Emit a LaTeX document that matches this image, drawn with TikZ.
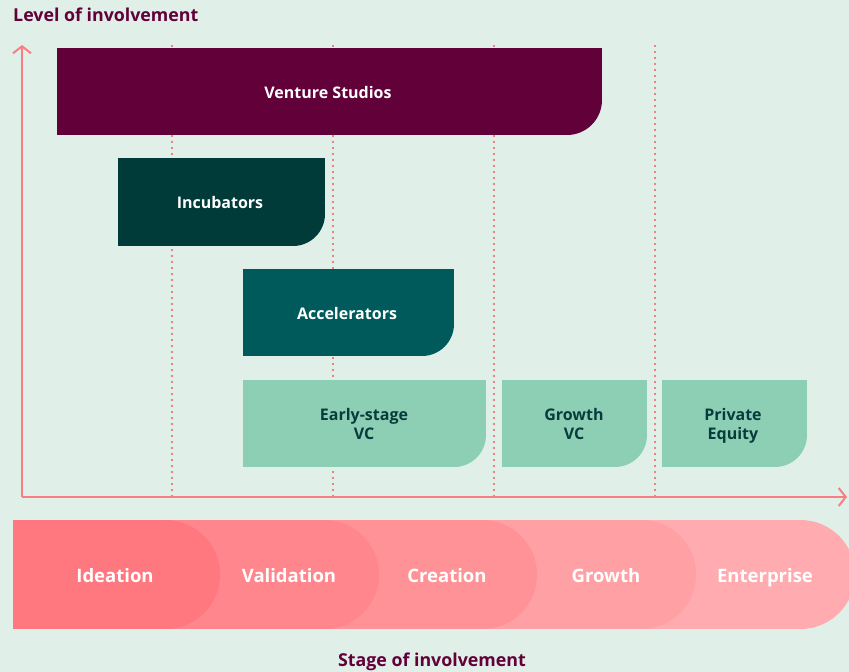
\documentclass[tikz,border=0pt]{standalone}
\usepackage{fontspec}
\setmainfont{Open Sans}
\usetikzlibrary{arrows.meta}
\definecolor{bg}{RGB}{224,240,232}
\definecolor{maroon}{RGB}{98,0,57}
\definecolor{axis}{RGB}{250,125,130}
\definecolor{dots}{RGB}{240,128,128}
\definecolor{incub}{RGB}{0,59,58}
\definecolor{accel}{RGB}{0,90,92}
\definecolor{vc}{RGB}{140,207,180}
\definecolor{vctext}{RGB}{8,60,60}
\definecolor{stA}{RGB}{255,120,128}
\definecolor{stB}{RGB}{255,134,140}
\definecolor{stC}{RGB}{255,146,151}
\definecolor{stD}{RGB}{255,160,164}
\definecolor{stE}{RGB}{255,171,176}
\tikzset{
  boxlabel/.style={font=\fontsize{16}{19}\selectfont\bfseries, align=center, text=white},
  vclabel/.style={boxlabel, text=vctext},
  stagelabel/.style={font=\fontsize{18.5}{22}\selectfont\bfseries, text=white, text height=13.5pt, text depth=4.5pt},
  axislabel/.style={font=\fontsize{17.8}{21}\selectfont\bfseries, text=maroon},
  axisline/.style={draw=axis, line width=2pt, -{Straight Barb[length=7pt,width=18pt,line width=2pt]}},
  guide/.style={draw=dots, line width=1.6pt, dash pattern=on 1.6pt off 4.4pt},
}
% box with rounded bottom-right corner: #1 color, x1,y1,x2,y2,r
\newcommand{\rbox}[6]{%
  \fill[#1] (#2,#3) rectangle (#4-#6,#5);
  \fill[#1] (#2,#3) rectangle (#4,#5-#6);
  \fill[#1] (#4-#6,#5-#6) circle[radius=#6pt];
}
\begin{document}
\begin{tikzpicture}[x=1pt,y=-1pt]
\fill[bg] (0,0) rectangle (849,672);
\useasboundingbox (0,0) rectangle (849,672);

% guides
\foreach \gx/\gn in {172/g1,333/g2,494/g3,655/g4}{
  \coordinate (\gn t) at (\gx,45);
  \coordinate (\gn b) at (\gx,497);
  \draw[guide] (\gn t) -- (\gn b);
}

% axes
\coordinate (origin) at (22,497);
\coordinate (ytop) at (22,45);
\coordinate (xend) at (847,497);
\draw[axisline] (origin) -- (ytop);
\draw[axisline] (origin) -- (xend);

\node[axislabel, anchor=west, inner sep=0pt] (ylab) at (13,15) {Level of involvement};
\node[axislabel] (xlab) at (432,661.5) {Stage of involvement};

% boxes
\rbox{maroon}{57}{48}{602}{135}{35}
\node[boxlabel] (venture) at (328,92) {Venture Studios};
\rbox{incub}{118}{158}{325}{246}{32}
\node[boxlabel] (incubators) at (220,202) {Incubators};
\rbox{accel}{243}{269}{454}{356}{32}
\node[boxlabel] (accelerators) at (347,313) {Accelerators};
\rbox{vc}{243}{380}{486}{467}{32}
\node[vclabel] (earlyvc) at (364,423.5) {Early-stage\\VC};
\rbox{vc}{502}{380}{647}{467}{32}
\node[vclabel] (growthvc) at (574,423.5) {Growth\\VC};
\rbox{vc}{662}{380}{807}{467}{32}
\node[vclabel] (pe) at (733,425.5) {Private\\Equity};

% stage bar
\begin{scope}
\clip (0,0) rectangle (849,672);
\foreach \xr/\c in {855/stE,696/stD,537/stC,379/stB,220/stA}{
  \fill[\c] (13,520) rectangle (\xr-54.5,629);
  \fill[\c] (\xr-54.5,574.5) circle[radius=54.5pt];
}
\end{scope}
\node[stagelabel] (ideation) at (115,578) {Ideation};
\node[stagelabel] (validation) at (289,578) {Validation};
\node[stagelabel] (creation) at (447,578) {Creation};
\node[stagelabel] (growth) at (606,578) {Growth};
\node[stagelabel] (enterprise) at (765,578) {Enterprise};
\end{tikzpicture}
\end{document}
